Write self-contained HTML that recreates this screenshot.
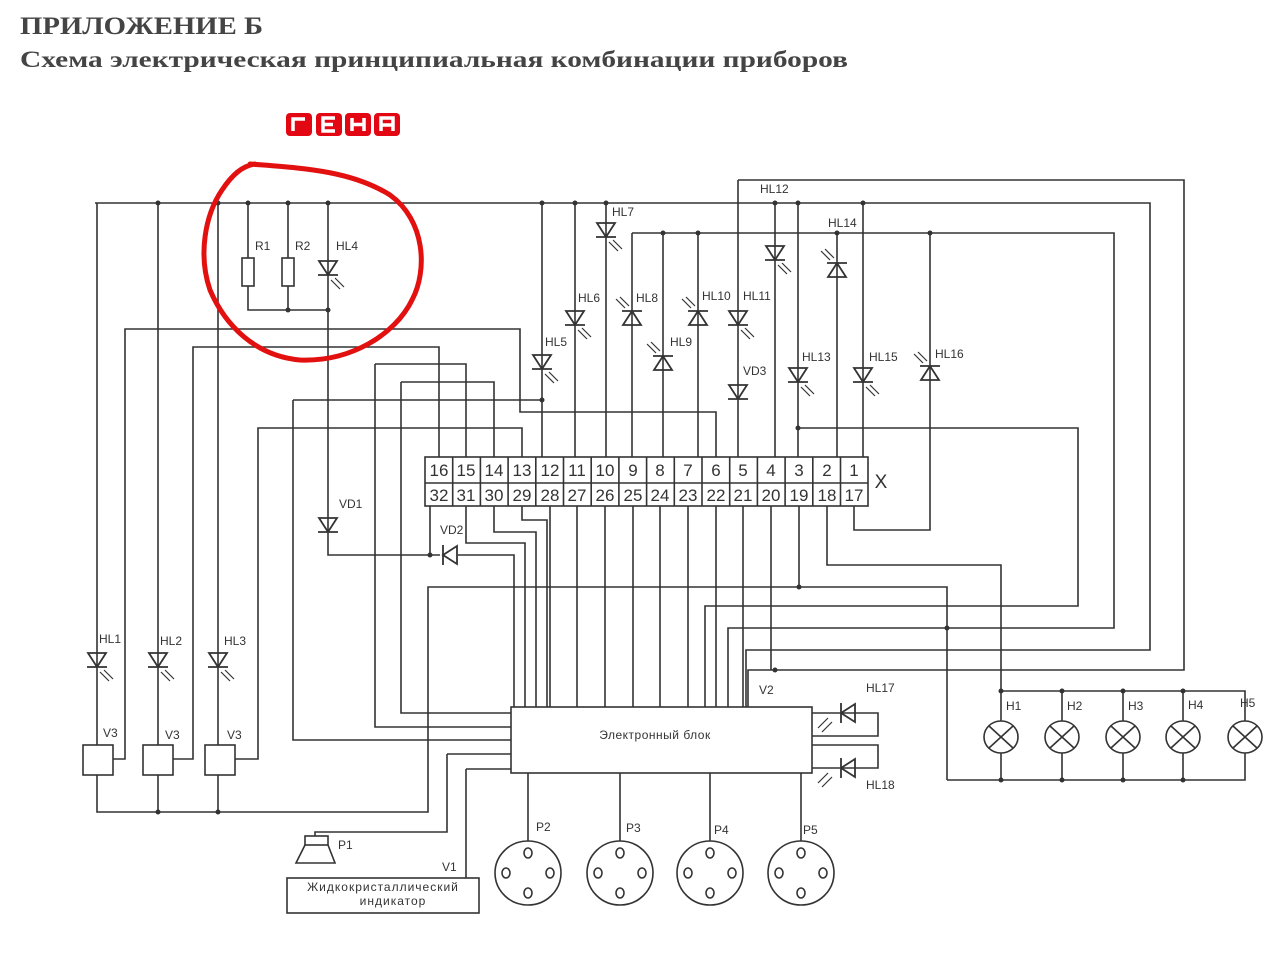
<!DOCTYPE html>
<html><head><meta charset="utf-8"><style>
html,body{margin:0;padding:0;background:#fff;}
svg{display:block;}
.w{stroke:#333;stroke-width:1.6;fill:none;}
.t{font-family:"Liberation Sans","DejaVu Sans",sans-serif;font-size:12px;fill:#333;}
.d{fill:#333;}
</style></head><body>
<svg width="1280" height="957" viewBox="0 0 1280 957" xmlns="http://www.w3.org/2000/svg">
<defs>
<g id="dd"><path d="M-9,-7 L9,-7 L0,7 Z M-10,7 L10,7" stroke="#333" stroke-width="1.8" fill="none"/></g>
<g id="du"><path d="M-9,7 L9,7 L0,-7 Z M-10,-7 L10,-7" stroke="#333" stroke-width="1.8" fill="none"/></g>
<g id="ar"><path d="M3,12 L12,21 M7,10 L16,19" stroke="#333" stroke-width="1.2"/></g>
<g id="al"><path d="M-3,-12 L-12,-21 M-7,-10 L-16,-19" stroke="#333" stroke-width="1.2"/></g>
</defs>

<text x="20" y="34" font-family="Liberation Serif,serif" font-size="25" font-weight="bold" fill="#444" textLength="243" lengthAdjust="spacingAndGlyphs">ПРИЛОЖЕНИЕ Б</text>
<text x="20" y="67" font-family="Liberation Serif,serif" font-size="23" font-weight="bold" fill="#444" textLength="828" lengthAdjust="spacingAndGlyphs">Схема электрическая принципиальная комбинации приборов</text>

<!-- logo -->
<g fill="#e30613">
<rect x="286" y="113" width="26" height="23" rx="4"/><rect x="316" y="113" width="26" height="23" rx="4"/>
<rect x="345" y="113" width="26" height="23" rx="4"/><rect x="374" y="113" width="26" height="23" rx="4"/>
</g>
<g stroke="#fff" stroke-width="3.5" fill="none">
<path d="M293,131 V119 H305"/>
<path d="M335,118 H323 V131 H335 M323,124.5 H333"/>
<path d="M352,118 V131 M364,118 V131 M352,124.5 H364"/>
<path d="M381,131 V118 H393 V131 M381,125 H393"/>
</g>

<!-- main wiring -->
<g class="w">
<path d="M95,203 H1150 V650 H746 V707"/>
<path d="M738,180 H1184 V670 H748 V707"/>
<path d="M632,233 H1114 V628 H728 V707"/>
<path d="M798,428 H1078 V606 H705 V707"/>
<path d="M97,203 V745 M158,203 V745 M218,203 V745"/>
<rect x="83" y="745" width="30" height="30"/><rect x="143" y="745" width="30" height="30"/><rect x="205" y="745" width="30" height="30"/>
<path d="M97,775 V812 H428 V587 H947 V780 M158,775 V812 M218,775 V812"/>
<path d="M113,759 H125 V329 H520 V412 H716 V457"/>
<path d="M173,759 H193 V347 H439 V457"/>
<path d="M235,759 H258 V428 H522 V457"/>
<path d="M293,400 H542 M293,400 V740 H511"/>
<path d="M375,364 H466 V457 M375,364 V727 H511"/>
<path d="M401,382 H494 V457 M401,382 V713 H511"/>
<path d="M248,203 V258 M248,286 V310 H328 M288,203 V258 M288,286 V310 M328,203 V555 H440 M430,555 V506 M458,555 H514 V707"/>
<rect x="242" y="258" width="12" height="28"/><rect x="282" y="258" width="12" height="28"/>
<path d="M542,203 V457 M575,203 V457 M606,203 V457 M663,233 V457 M698,233 V457 M738,180 V457 M775,203 V457 M798,203 V457 M837,233 V457 M863,203 V457 M930,233 V530 H854 V506"/>
<path d="M632,233 V457"/>
<path d="M466,506 V543 H525 V707 M494,506 V532 H536 V707 M522,506 V520 H547 V707"/>
<path d="M550,506 V707 M577,506 V707 M605,506 V707 M633,506 V707 M660,506 V707 M688,506 V707 M716,506 V707 M743,506 V707 M771,506 V670"/>
<path d="M799,506 V587 M827,506 V565 H1001 V691"/>
<path d="M447,754 H511 M447,754 V832 H315 V836 M466,769 H511 M466,769 V878"/>
<rect x="511" y="707" width="301" height="66"/>
<path d="M812,713 H878 V736 H812 M812,745 H878 V768 H812"/>
<path d="M528,773 V841 M620,773 V841 M710,773 V841 M801,773 V841"/>
<path d="M1001,691 H1245 V721 M1001,691 V721 M1062,691 V721 M1123,691 V721 M1183,691 V721"/>
<path d="M947,780 H1245 V753 M1001,780 V753 M1062,780 V753 M1123,780 V753 M1183,780 V753"/>
<rect x="305" y="836" width="23" height="9"/><path d="M305,845 L296,863 H335 L328,845"/>
<rect x="287" y="878" width="192" height="35"/>
</g>

<g class="w">
<g transform="translate(1001,737)"><ellipse rx="17" ry="16" fill="#fff"/><path d="M-12,-11 L12,11 M12,-11 L-12,11"/></g>
<g transform="translate(1062,737)"><ellipse rx="17" ry="16" fill="#fff"/><path d="M-12,-11 L12,11 M12,-11 L-12,11"/></g>
<g transform="translate(1123,737)"><ellipse rx="17" ry="16" fill="#fff"/><path d="M-12,-11 L12,11 M12,-11 L-12,11"/></g>
<g transform="translate(1183,737)"><ellipse rx="17" ry="16" fill="#fff"/><path d="M-12,-11 L12,11 M12,-11 L-12,11"/></g>
<g transform="translate(1245,737)"><ellipse rx="17" ry="16" fill="#fff"/><path d="M-12,-11 L12,11 M12,-11 L-12,11"/></g>
</g>
<g class="w" stroke-width="1.4">
<g transform="translate(528,873)"><ellipse rx="33" ry="32" fill="#fff"/><ellipse cx="0" cy="-20" rx="4" ry="5"/><ellipse cx="0" cy="20" rx="4" ry="5"/><ellipse cx="-22" cy="0" rx="4" ry="5"/><ellipse cx="22" cy="0" rx="4" ry="5"/></g>
<g transform="translate(620,873)"><ellipse rx="33" ry="32" fill="#fff"/><ellipse cx="0" cy="-20" rx="4" ry="5"/><ellipse cx="0" cy="20" rx="4" ry="5"/><ellipse cx="-22" cy="0" rx="4" ry="5"/><ellipse cx="22" cy="0" rx="4" ry="5"/></g>
<g transform="translate(710,873)"><ellipse rx="33" ry="32" fill="#fff"/><ellipse cx="0" cy="-20" rx="4" ry="5"/><ellipse cx="0" cy="20" rx="4" ry="5"/><ellipse cx="-22" cy="0" rx="4" ry="5"/><ellipse cx="22" cy="0" rx="4" ry="5"/></g>
<g transform="translate(801,873)"><ellipse rx="33" ry="32" fill="#fff"/><ellipse cx="0" cy="-20" rx="4" ry="5"/><ellipse cx="0" cy="20" rx="4" ry="5"/><ellipse cx="-22" cy="0" rx="4" ry="5"/><ellipse cx="22" cy="0" rx="4" ry="5"/></g>
</g>

<g fill="#fff">
<g transform="translate(97,660)"><use href="#dd"/><use href="#ar"/></g>
<g transform="translate(158,660)"><use href="#dd"/><use href="#ar"/></g>
<g transform="translate(218,660)"><use href="#dd"/><use href="#ar"/></g>
<g transform="translate(328,268)"><use href="#dd"/><use href="#ar"/></g>
<g transform="translate(328,525)"><use href="#dd"/></g>
<g transform="translate(542,362)"><use href="#dd"/><use href="#ar"/></g>
<g transform="translate(575,318)"><use href="#dd"/><use href="#ar"/></g>
<g transform="translate(606,230)"><use href="#dd"/><use href="#ar"/></g>
<g transform="translate(632,318)"><use href="#du"/><use href="#al"/></g>
<g transform="translate(663,363)"><use href="#du"/><use href="#al"/></g>
<g transform="translate(698,318)"><use href="#du"/><use href="#al"/></g>
<g transform="translate(738,318)"><use href="#dd"/><use href="#ar"/></g>
<g transform="translate(738,392)"><use href="#dd"/></g>
<g transform="translate(775,253)"><use href="#dd"/><use href="#ar"/></g>
<g transform="translate(837,270)"><use href="#du"/><use href="#al"/></g>
<g transform="translate(798,375)"><use href="#dd"/><use href="#ar"/></g>
<g transform="translate(863,375)"><use href="#dd"/><use href="#ar"/></g>
<g transform="translate(930,373)"><use href="#du"/><use href="#al"/></g>
<g transform="translate(450,555) rotate(90)"><use href="#dd"/></g>
<g transform="translate(848,713) rotate(90)"><use href="#dd"/></g>
<g transform="translate(848,768) rotate(90)"><use href="#dd"/></g>
</g>
<g stroke="#333" stroke-width="1.2">
<path d="M832,722 L822,732 M828,718 L818,728 M832,777 L822,787 M828,773 L818,783"/>
</g>

<g class="d">
<circle cx="158" cy="203" r="2.5"/><circle cx="218" cy="203" r="2.5"/><circle cx="248" cy="203" r="2.5"/><circle cx="288" cy="203" r="2.5"/><circle cx="328" cy="203" r="2.5"/>
<circle cx="288" cy="310" r="2.5"/><circle cx="328" cy="310" r="2.5"/>
<circle cx="542" cy="203" r="2.5"/><circle cx="575" cy="203" r="2.5"/><circle cx="606" cy="203" r="2.5"/><circle cx="775" cy="203" r="2.5"/><circle cx="798" cy="203" r="2.5"/><circle cx="863" cy="203" r="2.5"/>
<circle cx="663" cy="233" r="2.5"/><circle cx="698" cy="233" r="2.5"/><circle cx="837" cy="233" r="2.5"/><circle cx="930" cy="233" r="2.5"/>
<circle cx="542" cy="400" r="2.5"/><circle cx="798" cy="428" r="2.5"/>
<circle cx="430" cy="555" r="2.5"/><circle cx="799" cy="587" r="2.5"/><circle cx="947" cy="628" r="2.5"/><circle cx="775" cy="670" r="2.5"/>
<circle cx="158" cy="812" r="2.5"/><circle cx="218" cy="812" r="2.5"/>
<circle cx="1001" cy="691" r="2.5"/><circle cx="1062" cy="691" r="2.5"/><circle cx="1123" cy="691" r="2.5"/><circle cx="1183" cy="691" r="2.5"/>
<circle cx="1001" cy="780" r="2.5"/><circle cx="1062" cy="780" r="2.5"/><circle cx="1123" cy="780" r="2.5"/><circle cx="1183" cy="780" r="2.5"/>
</g>

<g class="w">
<rect x="425" y="457" width="443" height="49" fill="#fff"/>
<path d="M425,483 H868"/>
<path d="M452.7,457V506 M480.4,457V506 M508.1,457V506 M535.8,457V506 M563.5,457V506 M591.2,457V506 M618.9,457V506 M646.6,457V506 M674.3,457V506 M702,457V506 M729.7,457V506 M757.4,457V506 M785.1,457V506 M812.8,457V506 M840.5,457V506"/>
</g>
<g font-family="Liberation Sans,sans-serif" font-size="17" fill="#333" text-anchor="middle">
<text x="439" y="476">16</text><text x="466" y="476">15</text><text x="494" y="476">14</text><text x="522" y="476">13</text><text x="550" y="476">12</text><text x="577" y="476">11</text><text x="605" y="476">10</text><text x="633" y="476">9</text><text x="660" y="476">8</text><text x="688" y="476">7</text><text x="716" y="476">6</text><text x="743" y="476">5</text><text x="771" y="476">4</text><text x="799" y="476">3</text><text x="827" y="476">2</text><text x="854" y="476">1</text>
<text x="439" y="501">32</text><text x="466" y="501">31</text><text x="494" y="501">30</text><text x="522" y="501">29</text><text x="550" y="501">28</text><text x="577" y="501">27</text><text x="605" y="501">26</text><text x="633" y="501">25</text><text x="660" y="501">24</text><text x="688" y="501">23</text><text x="716" y="501">22</text><text x="743" y="501">21</text><text x="771" y="501">20</text><text x="799" y="501">19</text><text x="827" y="501">18</text><text x="854" y="501">17</text>
<text x="881" y="488" font-size="19">X</text>
</g>

<g class="t">
<text x="255" y="250">R1</text><text x="295" y="250">R2</text><text x="336" y="250">HL4</text>
<text x="99" y="643">HL1</text><text x="160" y="645">HL2</text><text x="224" y="645">HL3</text>
<text x="103" y="737">V3</text><text x="165" y="739">V3</text><text x="227" y="739">V3</text>
<text x="339" y="508">VD1</text><text x="440" y="534">VD2</text>
<text x="545" y="346">HL5</text><text x="578" y="302">HL6</text><text x="612" y="216">HL7</text>
<text x="636" y="302">HL8</text><text x="670" y="346">HL9</text><text x="702" y="300">HL10</text><text x="743" y="300">HL11</text>
<text x="743" y="375">VD3</text><text x="760" y="193">HL12</text><text x="802" y="361">HL13</text><text x="828" y="227">HL14</text>
<text x="869" y="361">HL15</text><text x="935" y="358">HL16</text>
<text x="866" y="692">HL17</text><text x="866" y="789">HL18</text>
<text x="759" y="694">V2</text>
<text x="1006" y="710">H1</text><text x="1067" y="710">H2</text><text x="1128" y="710">H3</text><text x="1188" y="709">H4</text><text x="1240" y="707">H5</text>
<text x="536" y="831">P2</text><text x="626" y="832">P3</text><text x="714" y="834">P4</text><text x="803" y="834">P5</text>
<text x="338" y="849">P1</text><text x="442" y="871">V1</text>
<text x="655" y="739" text-anchor="middle" font-size="12" letter-spacing="0.5">Электронный блок</text>
<text x="383" y="891" text-anchor="middle" font-size="12" letter-spacing="1">Жидкокристаллический</text>
<text x="393" y="905" text-anchor="middle" font-size="12" letter-spacing="1">индикатор</text>
</g>

<path d="M250,164 C300,168 350,170 390,195 C425,220 428,270 412,300 C395,335 350,362 300,360 C255,356 225,325 210,290 C198,255 205,215 222,190 C232,175 242,166 255,164" stroke="#e31010" stroke-width="5" fill="none" stroke-linecap="round"/>
</svg>
</body></html>
